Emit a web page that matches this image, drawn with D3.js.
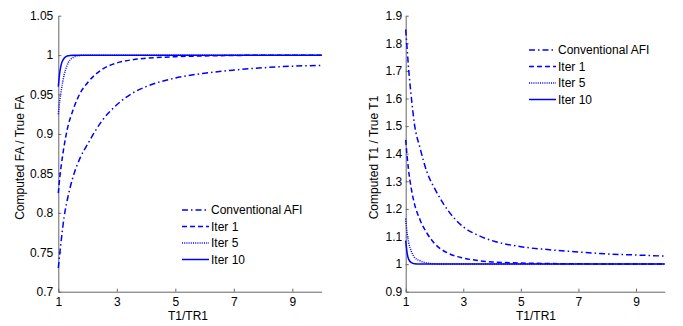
<!DOCTYPE html>
<html>
<head>
<meta charset="utf-8">
<script src="https://cdn.jsdelivr.net/npm/d3@7"></script>
<style>
  body { margin: 0; background: #fff; }
  svg { display: block; font-family: "Liberation Sans", Arial, sans-serif; }
  .axis path, .axis line { stroke: #666; }
  .axis text { font-size: 12px; fill: #000; }
  .label { font-size: 12px; fill: #000; }
  .series { fill: none; stroke: #0000ff; stroke-width: 1.5; }
</style>
</head>
<body>
<svg id="chart" width="683" height="326"></svg>
<script>
// T1/TR1 sample points (shared by all curves)
const ratio = [1, 1.05, 1.1, 1.2, 1.3, 1.5, 1.75, 2, 2.5, 3, 3.5, 4, 5, 6, 7, 8, 9, 10];

// Left panel: computed FA / true FA
const faConventional = [0.73, 0.748, 0.765, 0.795, 0.815, 0.845, 0.87, 0.887, 0.917, 0.937, 0.951, 0.96, 0.971, 0.977, 0.981, 0.984, 0.986, 0.987];
const faIter1 = [0.825, 0.845, 0.86, 0.885, 0.905, 0.93, 0.952, 0.965, 0.982, 0.99, 0.994, 0.996, 0.998, 0.999, 0.9995, 1.0, 1.0, 1.0];
const faIter5 = [0.925, 0.942, 0.955, 0.975, 0.987, 0.997, 0.9995, 1, 1, 1, 1, 1, 1, 1, 1, 1, 1, 1];
const faIter10 = [0.96, 0.978, 0.988, 0.996, 0.999, 1, 1, 1, 1, 1, 1, 1, 1, 1, 1, 1, 1, 1];

// Right panel: computed T1 / true T1
const t1Conventional = [1.85, 1.78, 1.71, 1.6, 1.51, 1.42, 1.33, 1.275, 1.19, 1.135, 1.105, 1.085, 1.063, 1.052, 1.044, 1.037, 1.033, 1.029];
const t1Iter1 = [1.45, 1.39, 1.34, 1.27, 1.22, 1.16, 1.11, 1.075, 1.038, 1.022, 1.013, 1.008, 1.004, 1.002, 1.001, 1.0005, 1.0, 1.0];
const t1Iter5 = [1.165, 1.11, 1.08, 1.045, 1.025, 1.012, 1.004, 1.001, 1, 1, 1, 1, 1, 1, 1, 1, 1, 1];
const t1Iter10 = [1.085, 1.04, 1.018, 1.005, 1.001, 1, 1, 1, 1, 1, 1, 1, 1, 1, 1, 1, 1, 1];

const legendNames = ['Conventional AFI', 'Iter 1', 'Iter 5', 'Iter 10'];
const dashes = ['6,3,1.5,3', '5,3', '1,1.2', null];

const xTicks = [1, 3, 5, 7, 9];
const faTicks = [0.7, 0.75, 0.8, 0.85, 0.9, 0.95, 1, 1.05];
const t1Ticks = [0.9, 1, 1.1, 1.2, 1.3, 1.4, 1.5, 1.6, 1.7, 1.8, 1.9];

const svg = d3.select('#chart');

function drawPanel(cfg) {
    const x = d3.scaleLinear().domain([1, 10]).range([cfg.left, cfg.right]);
    const y = d3.scaleLinear().domain(cfg.yDomain).range([291.7, 15.7]);

    svg.append('g')
        .attr('class', 'axis')
        .attr('transform', 'translate(0,291.7)')
        .call(d3.axisBottom(x).tickValues(xTicks).tickFormat(d3.format('d'))
            .tickSizeInner(-3).tickSizeOuter(0).tickPadding(6));

    svg.append('g')
        .attr('class', 'axis')
        .attr('transform', `translate(${cfg.left},0)`)
        .call(d3.axisLeft(y).tickValues(cfg.yTicks).tickFormat(d => String(+d.toFixed(2)))
            .tickSizeInner(-3).tickSizeOuter(0).tickPadding(cfg.yPad));

    const line = d3.line()
        .x((d, i) => x(ratio[i]))
        .y(d => y(d))
        .curve(d3.curveMonotoneX);

    cfg.series.forEach((s, i) => {
        svg.append('path')
            .datum(s)
            .attr('class', 'series')
            .attr('stroke-dasharray', dashes[i])
            .attr('d', line);
    });

    // legend
    legendNames.forEach((name, i) => {
        const ly = cfg.legY + i * 16.5;
        svg.append('line')
            .attr('class', 'series')
            .attr('x1', cfg.legX).attr('x2', cfg.legX + 27)
            .attr('y1', ly).attr('y2', ly)
            .attr('stroke-dasharray', dashes[i]);
        svg.append('text')
            .attr('class', 'label')
            .attr('x', cfg.legX + 29)
            .attr('y', ly)
            .attr('dy', '0.35em')
            .text(name);
    });

    svg.append('text')
        .attr('class', 'label')
        .attr('x', cfg.xLabelX)
        .attr('y', 320)
        .attr('text-anchor', 'middle')
        .text('T1/TR1');

    svg.append('text')
        .attr('class', 'label')
        .attr('transform', `translate(${cfg.yLabelX},157.5) rotate(-90)`)
        .attr('text-anchor', 'middle')
        .text(cfg.yLabel);
}

drawPanel({
    left: 58.3, right: 321.6,
    yDomain: [0.7, 1.05], yTicks: faTicks, yPad: 5,
    series: [faConventional, faIter1, faIter5, faIter10],
    legX: 182, legY: 210,
    xLabelX: 188, yLabelX: 24,
    yLabel: 'Computed FA / True FA'
});

drawPanel({
    left: 405.7, right: 664.8,
    yDomain: [0.9, 1.9], yTicks: t1Ticks, yPad: 3.5,
    series: [t1Conventional, t1Iter1, t1Iter5, t1Iter10],
    legX: 529, legY: 50,
    xLabelX: 536, yLabelX: 378,
    yLabel: 'Computed T1 / True T1'
});
</script>
</body>
</html>
